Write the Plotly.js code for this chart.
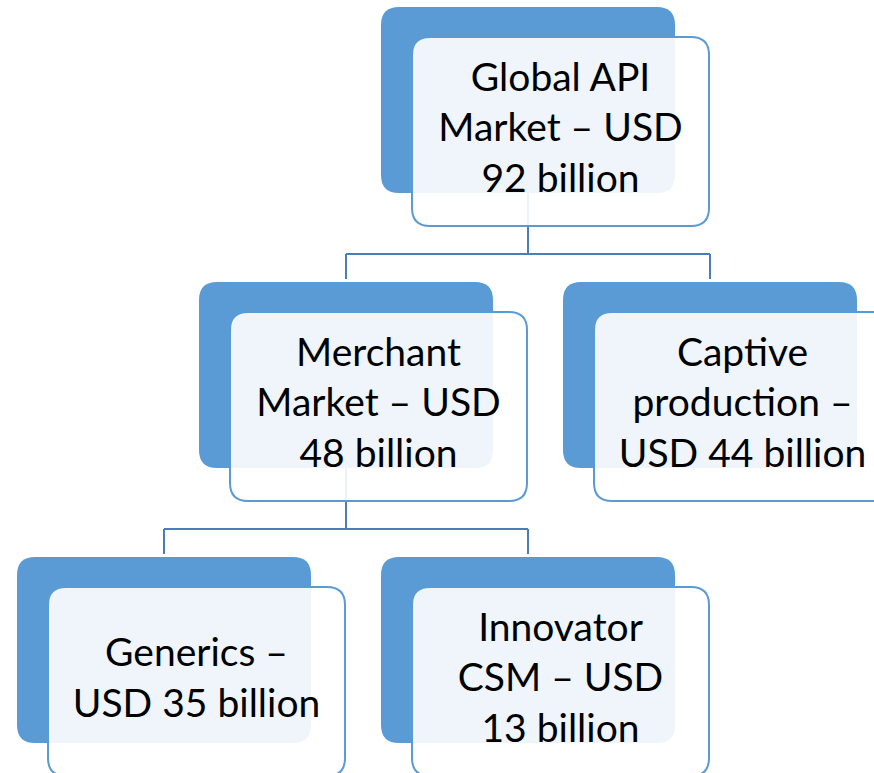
<!DOCTYPE html>
<html>
<head>
<meta charset="utf-8">
<script src="https://cdn.plot.ly/plotly-3.0.1.min.js"></script>
<style>
  html, body { margin: 0; padding: 0; background: #ffffff; }
  #chart { width: 874px; height: 773px; }
</style>
</head>
<body>
<div id="chart"></div>
<script>
// ---- Data (hierarchy of the API market) ----
const nodeIds = ["global", "merchant", "captive", "generics", "innovator"];
const nodeParents = ["", "global", "global", "merchant", "merchant"];
const nodeValues = [92, 48, 44, 35, 13]; // USD billion
const nodeLabelLines = [
  ["Global API", "Market – USD", "92 billion"],
  ["Merchant", "Market – USD", "48 billion"],
  ["Captive", "production –", "USD 44 billion"],
  ["Generics –", "USD 35 billion"],
  ["Innovator", "CSM – USD", "13 billion"]
];

// ---- Layout settings (pixel-like units on a 874 x 773 canvas) ----
const W = 874, H = 773;
const slotStep = 364, slotOrigin = 17;
const levelStep = 275, levelOrigin = 7;
const backW = 294, backH = 186;
const frontDX = 31, frontDY = 30, frontW = 297, frontH = 189;
const busDrop = 61, childGap = 3;
const radius = 18;
const backColor = "#5B9BD5";
const frontFill = "rgba(255,255,255,0.9)";
const frontLine = "#5B9BD5";
const connColor = "#4A7EBB";

// compute tree slots and levels
const idx = {};
nodeIds.forEach((id, i) => idx[id] = i);
const children = nodeIds.map(() => []);
nodeParents.forEach((p, i) => { if (p) children[idx[p]].push(i); });
const slot = new Array(nodeIds.length).fill(0);
const level = new Array(nodeIds.length).fill(0);
function place(i) {
  const ch = children[i];
  ch.forEach((c, k) => {
    slot[c] = slot[i] + (k - (ch.length - 1) / 2);
    level[c] = level[i] + 1;
    place(c);
  });
}
const root = nodeParents.indexOf("");
place(root);
const minSlot = Math.min(...slot);
const bx = slot.map(s => slotOrigin + (s - minSlot) * slotStep);
const by = level.map(l => levelOrigin + l * levelStep);

function roundRect(x0, y0, w, h, r) {
  const x1 = x0 + w, y1 = y0 + h;
  return `M ${x0 + r},${y0} L ${x1 - r},${y0} Q ${x1},${y0} ${x1},${y0 + r} ` +
         `L ${x1},${y1 - r} Q ${x1},${y1} ${x1 - r},${y1} L ${x0 + r},${y1} ` +
         `Q ${x0},${y1} ${x0},${y1 - r} L ${x0},${y0 + r} Q ${x0},${y0} ${x0 + r},${y0} Z`;
}

const shapes = [];
// back boxes
nodeIds.forEach((id, i) => {
  shapes.push({
    type: "path", xref: "x", yref: "y", layer: "below",
    path: roundRect(bx[i], by[i], backW, backH, radius),
    fillcolor: backColor, line: { width: 0 }
  });
});
// connectors
nodeIds.forEach((id, i) => {
  const ch = children[i];
  if (!ch.length) return;
  const px = bx[i] + backW / 2;
  const pyBottom = by[i] + backH;
  const busY = pyBottom + busDrop;
  const lineStyle = { color: connColor, width: 2 };
  shapes.push({ type: "line", xref: "x", yref: "y", layer: "below",
    x0: px, x1: px, y0: pyBottom, y1: busY, line: lineStyle });
  const cxs = ch.map(c => bx[c] + backW / 2);
  shapes.push({ type: "line", xref: "x", yref: "y", layer: "below",
    x0: Math.min(...cxs, px), x1: Math.max(...cxs, px), y0: busY, y1: busY, line: lineStyle });
  ch.forEach(c => {
    const cx = bx[c] + backW / 2;
    shapes.push({ type: "line", xref: "x", yref: "y", layer: "below",
      x0: cx, x1: cx, y0: busY, y1: by[c] - childGap, line: lineStyle });
  });
});
// front boxes
nodeIds.forEach((id, i) => {
  shapes.push({
    type: "path", xref: "x", yref: "y", layer: "below",
    path: roundRect(bx[i] + frontDX, by[i] + frontDY, frontW, frontH, radius),
    fillcolor: frontFill, line: { color: frontLine, width: 2 }
  });
});

const textTrace = {
  type: "scatter", mode: "text",
  x: nodeIds.map((id, i) => bx[i] + frontDX + frontW / 2),
  y: nodeIds.map((id, i) => by[i] + frontDY + frontH / 2),
  text: nodeLabelLines.map(lines => lines.join("<br>")),
  customdata: nodeValues,
  textposition: "middle center",
  textfont: { family: "Lato, 'Open Sans', sans-serif", size: 39, color: "#000000" },
  hoverinfo: "skip",
  showlegend: false,
  cliponaxis: true
};

const layout = {
  width: W, height: H,
  margin: { l: 0, r: 0, t: 0, b: 0, pad: 0 },
  paper_bgcolor: "#ffffff", plot_bgcolor: "#ffffff",
  xaxis: { range: [0, W], visible: false, fixedrange: true },
  yaxis: { range: [H, 0], visible: false, fixedrange: true },
  shapes: shapes,
  showlegend: false
};

Plotly.newPlot("chart", [textTrace], layout, { displayModeBar: false, staticPlot: true });
</script>
</body>
</html>
